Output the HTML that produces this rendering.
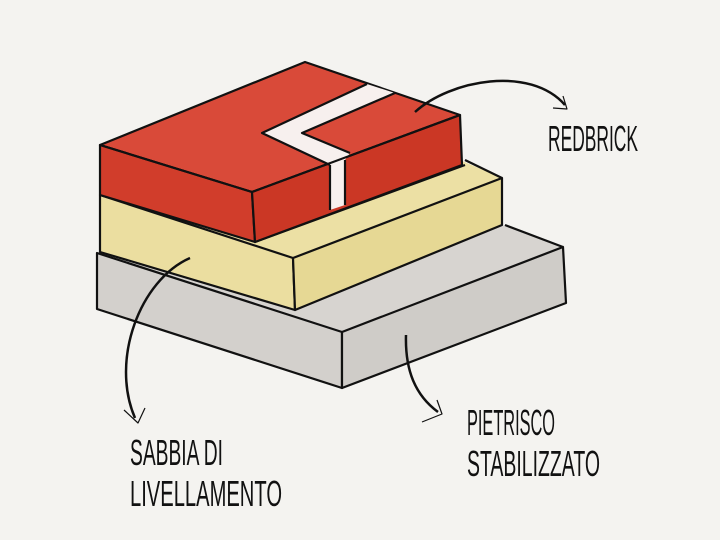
<!DOCTYPE html>
<html><head><style>
html,body{margin:0;padding:0;background:#f4f3f0;}
svg{display:block}
</style></head><body>
<svg width="720" height="540" viewBox="0 0 720 540" xmlns="http://www.w3.org/2000/svg">
<rect width="720" height="540" fill="#f4f3f0"/>
<g stroke="#111" stroke-width="2.2" stroke-linejoin="round" fill="none">
<polygon points="97,253 342,332 563,247 505,225 300,300" fill="#d7d4d0" stroke="none"/>
<polygon points="97,253 342,332 342,388 97,309" fill="#d3d0cc"/>
<polygon points="342,332 563,247 566,303 342,388" fill="#cfccc8"/>
<line x1="563" y1="247" x2="505" y2="225"/>
<polygon points="100,195 293,258 502,178 460,160 255,240" fill="#ece0a4" stroke="none"/>
<polygon points="100,195 293,258 295,310 100,252" fill="#ebdea0"/>
<polygon points="293,258 502,178 502,225 295,310" fill="#e6d894"/>
<line x1="502" y1="178" x2="465" y2="160"/>
<line x1="255" y1="242" x2="465" y2="165"/>
<polygon points="100,145 252,192 460,115 305,62" fill="#d94a39"/>
<polygon points="100,145 252,192 255,242 100,195" fill="#d13d2b"/>
<polygon points="252,192 460,115 462,165 255,242" fill="#cb3725"/>
<polygon points="367,84 395,93 302,133 350,153 345,160 345,205 330,210 330,165 262,133" fill="#f7f0ee" stroke="none"/>
<polyline points="367,84 262,133 330,165"/>
<polyline points="395,93 302,133 350,153"/>
<line x1="330" y1="165" x2="330" y2="210"/>
<line x1="345" y1="160" x2="345" y2="205"/>
<line x1="100" y1="145" x2="252" y2="192"/>
<line x1="252" y1="192" x2="460" y2="115"/>
<path d="M415,112 C450,80 530,65 565,105" stroke-width="2.5"/>
<polyline points="553,108 567,109 563,96" stroke-width="1.2"/>
<path d="M190,258 C140,280 110,360 135,418" stroke-width="2.5"/>
<polyline points="124,410 138,423 145,408" stroke-width="1.2"/>
<path d="M406,335 C405,370 415,395 438,412" stroke-width="2.5"/>
<polyline points="422,422 442,414 437,400" stroke-width="1.2"/>
</g>
<g font-family="Liberation Sans Narrow, Liberation Sans, sans-serif" font-size="36" fill="#111">
<text x="548" y="151" textLength="90" lengthAdjust="spacingAndGlyphs">REDBRICK</text>
<text x="130" y="465" textLength="93" lengthAdjust="spacingAndGlyphs">SABBIA DI</text>
<text x="130" y="506" textLength="152" lengthAdjust="spacingAndGlyphs">LIVELLAMENTO</text>
<text x="467" y="435" textLength="88" lengthAdjust="spacingAndGlyphs">PIETRISCO</text>
<text x="467" y="476" textLength="133" lengthAdjust="spacingAndGlyphs">STABILIZZATO</text>
</g>
</svg>
</body></html>
